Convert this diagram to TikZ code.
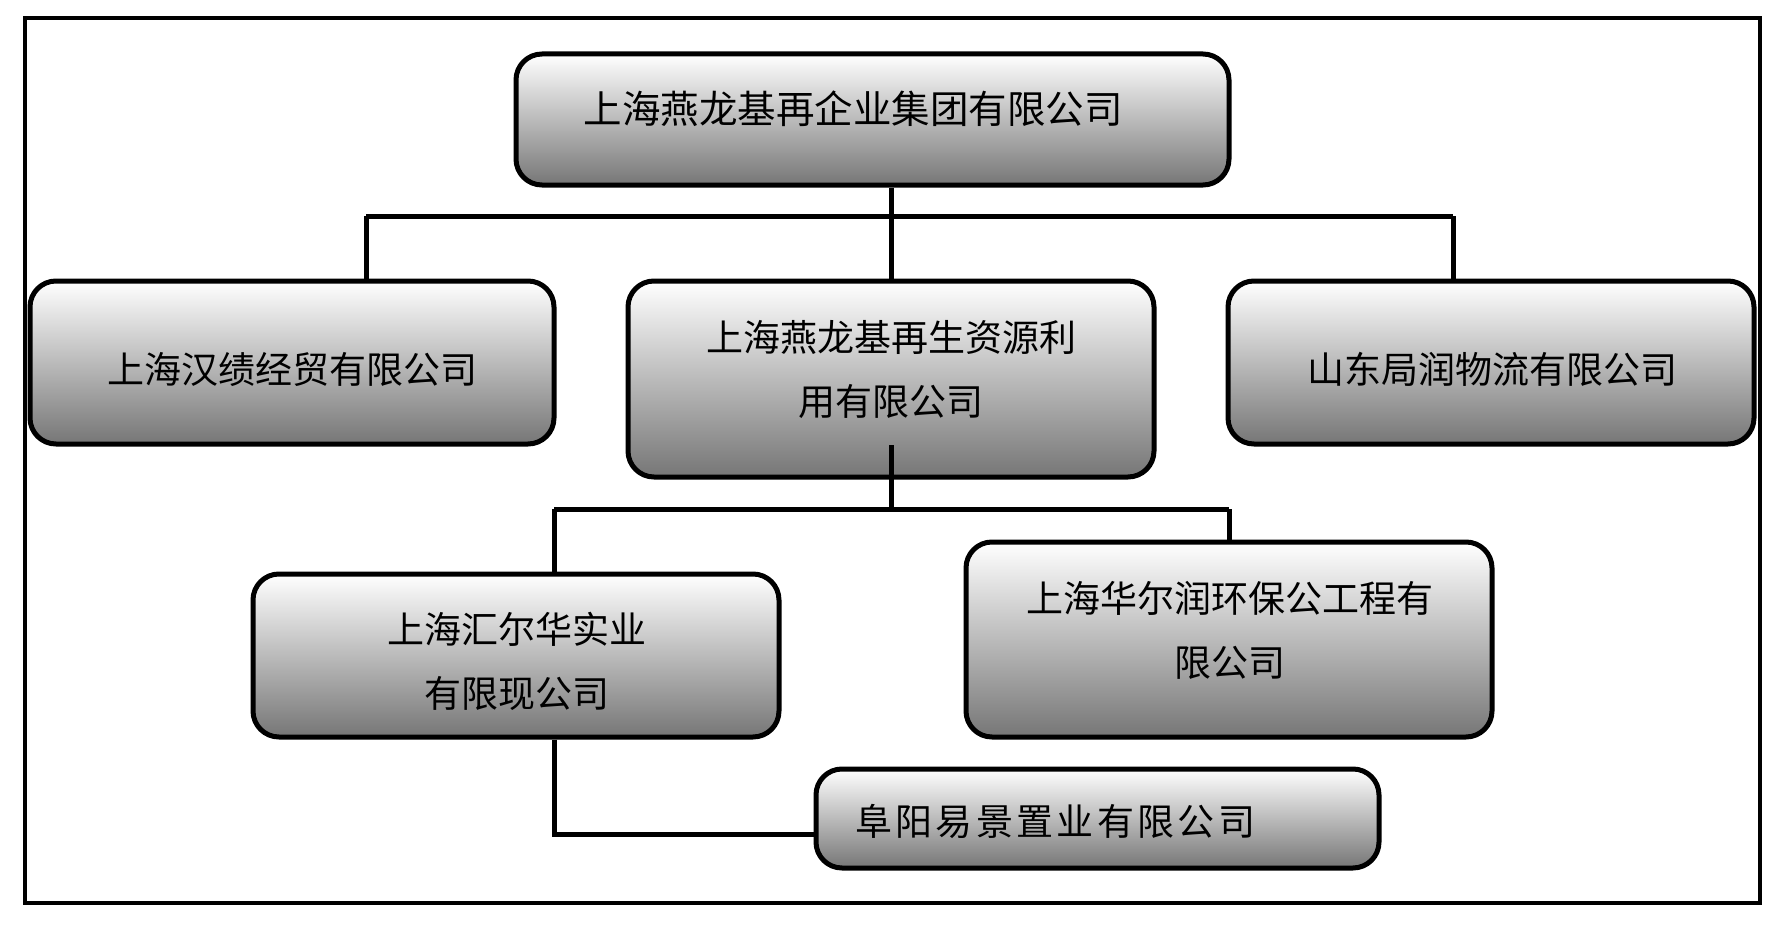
\documentclass[tikz,border=0pt]{standalone}
\usepackage{fontspec}
\newfontfamily\cjk{Noto Sans CJK SC}
\newfontfamily\cjksp{Noto Sans CJK SC}[LetterSpace=9]
\definecolor{boxbot}{RGB}{118,118,118}
\begin{document}
\begin{tikzpicture}[x=1pt,y=-1pt,
  orgbox/.style={draw=black,line width=5pt,rounded corners=26pt,top color=white,bottom color=boxbot,inner sep=0pt,minimum width=#1},
  lbl/.style={font=\cjk\fontsize{37}{64}\selectfont,align=center,inner sep=0pt,text=black},
  link/.style={line width=5pt,draw=black}]
\useasboundingbox (0,0) rectangle (1786,934);
\draw[line width=4pt] (25,18) rectangle (1760,903);
% boxes
\node[orgbox=713pt,minimum height=131pt] (top) at (872.5,119.5) {};
\node[orgbox=524pt,minimum height=163pt] (hanji) at (292,362.5) {};
\node[orgbox=526pt,minimum height=196pt] (ziyuan) at (891,379) {};
\node[orgbox=526pt,minimum height=163pt] (shandong) at (1491,362.5) {};
\node[orgbox=526pt,minimum height=163pt] (huierhua) at (516,655.5) {};
\node[orgbox=526pt,minimum height=195pt] (huaerrun) at (1229,639.5) {};
\node[orgbox=563pt,minimum height=99pt] (fuyang) at (1097.5,818.5) {};
% labels
\node[lbl,font=\cjk\fontsize{38.5}{64}\selectfont] (ttop) at (853,109) {上海燕龙基再企业集团有限公司};
\node[lbl] (thanji) at (292,369) {上海汉绩经贸有限公司};
\node[lbl] (tziyuan) at (891,370) {上海燕龙基再生资源利\\用有限公司};
\node[lbl] (tshandong) at (1492,369) {山东局润物流有限公司};
\node[lbl] (thuierhua) at (517,661) {上海汇尔华实业\\有限现公司};
\node[lbl] (thuaerrun) at (1230,630) {上海华尔润环保公工程有\\限公司};
\node[lbl,font=\cjksp\fontsize{37}{64}\selectfont,anchor=west] (tfuyang) at (855,821) {阜阳易景置业有限公司};
% junctions
\coordinate (j1) at (891,216);
\coordinate (j1l) at (366,216);
\coordinate (j1r) at (1453,216);
\coordinate (zs) at (891,445);
\coordinate (j2) at (891,509);
\coordinate (j2l) at (554,509);
\coordinate (j2r) at (1229,509);
\coordinate (j3) at (554,834);
% connectors
\draw[link] (top.south -| j1) -- (ziyuan.north);
\draw[link] (j1l) -- (j1r);
\draw[link] (j1l) -- (j1l |- hanji.north);
\draw[link] (j1r) -- (j1r |- shandong.north);
\draw[link] (zs) -- (j2);
\draw[link] (j2l) -- (j2r);
\draw[link] (j2l) -- (j2l |- huierhua.north);
\draw[link] (j2r) -- (j2r |- huaerrun.north);
\draw[link] (j2l |- huierhua.south) -- (j3) -- (j3 -| fuyang.west);
\end{tikzpicture}
\end{document}
